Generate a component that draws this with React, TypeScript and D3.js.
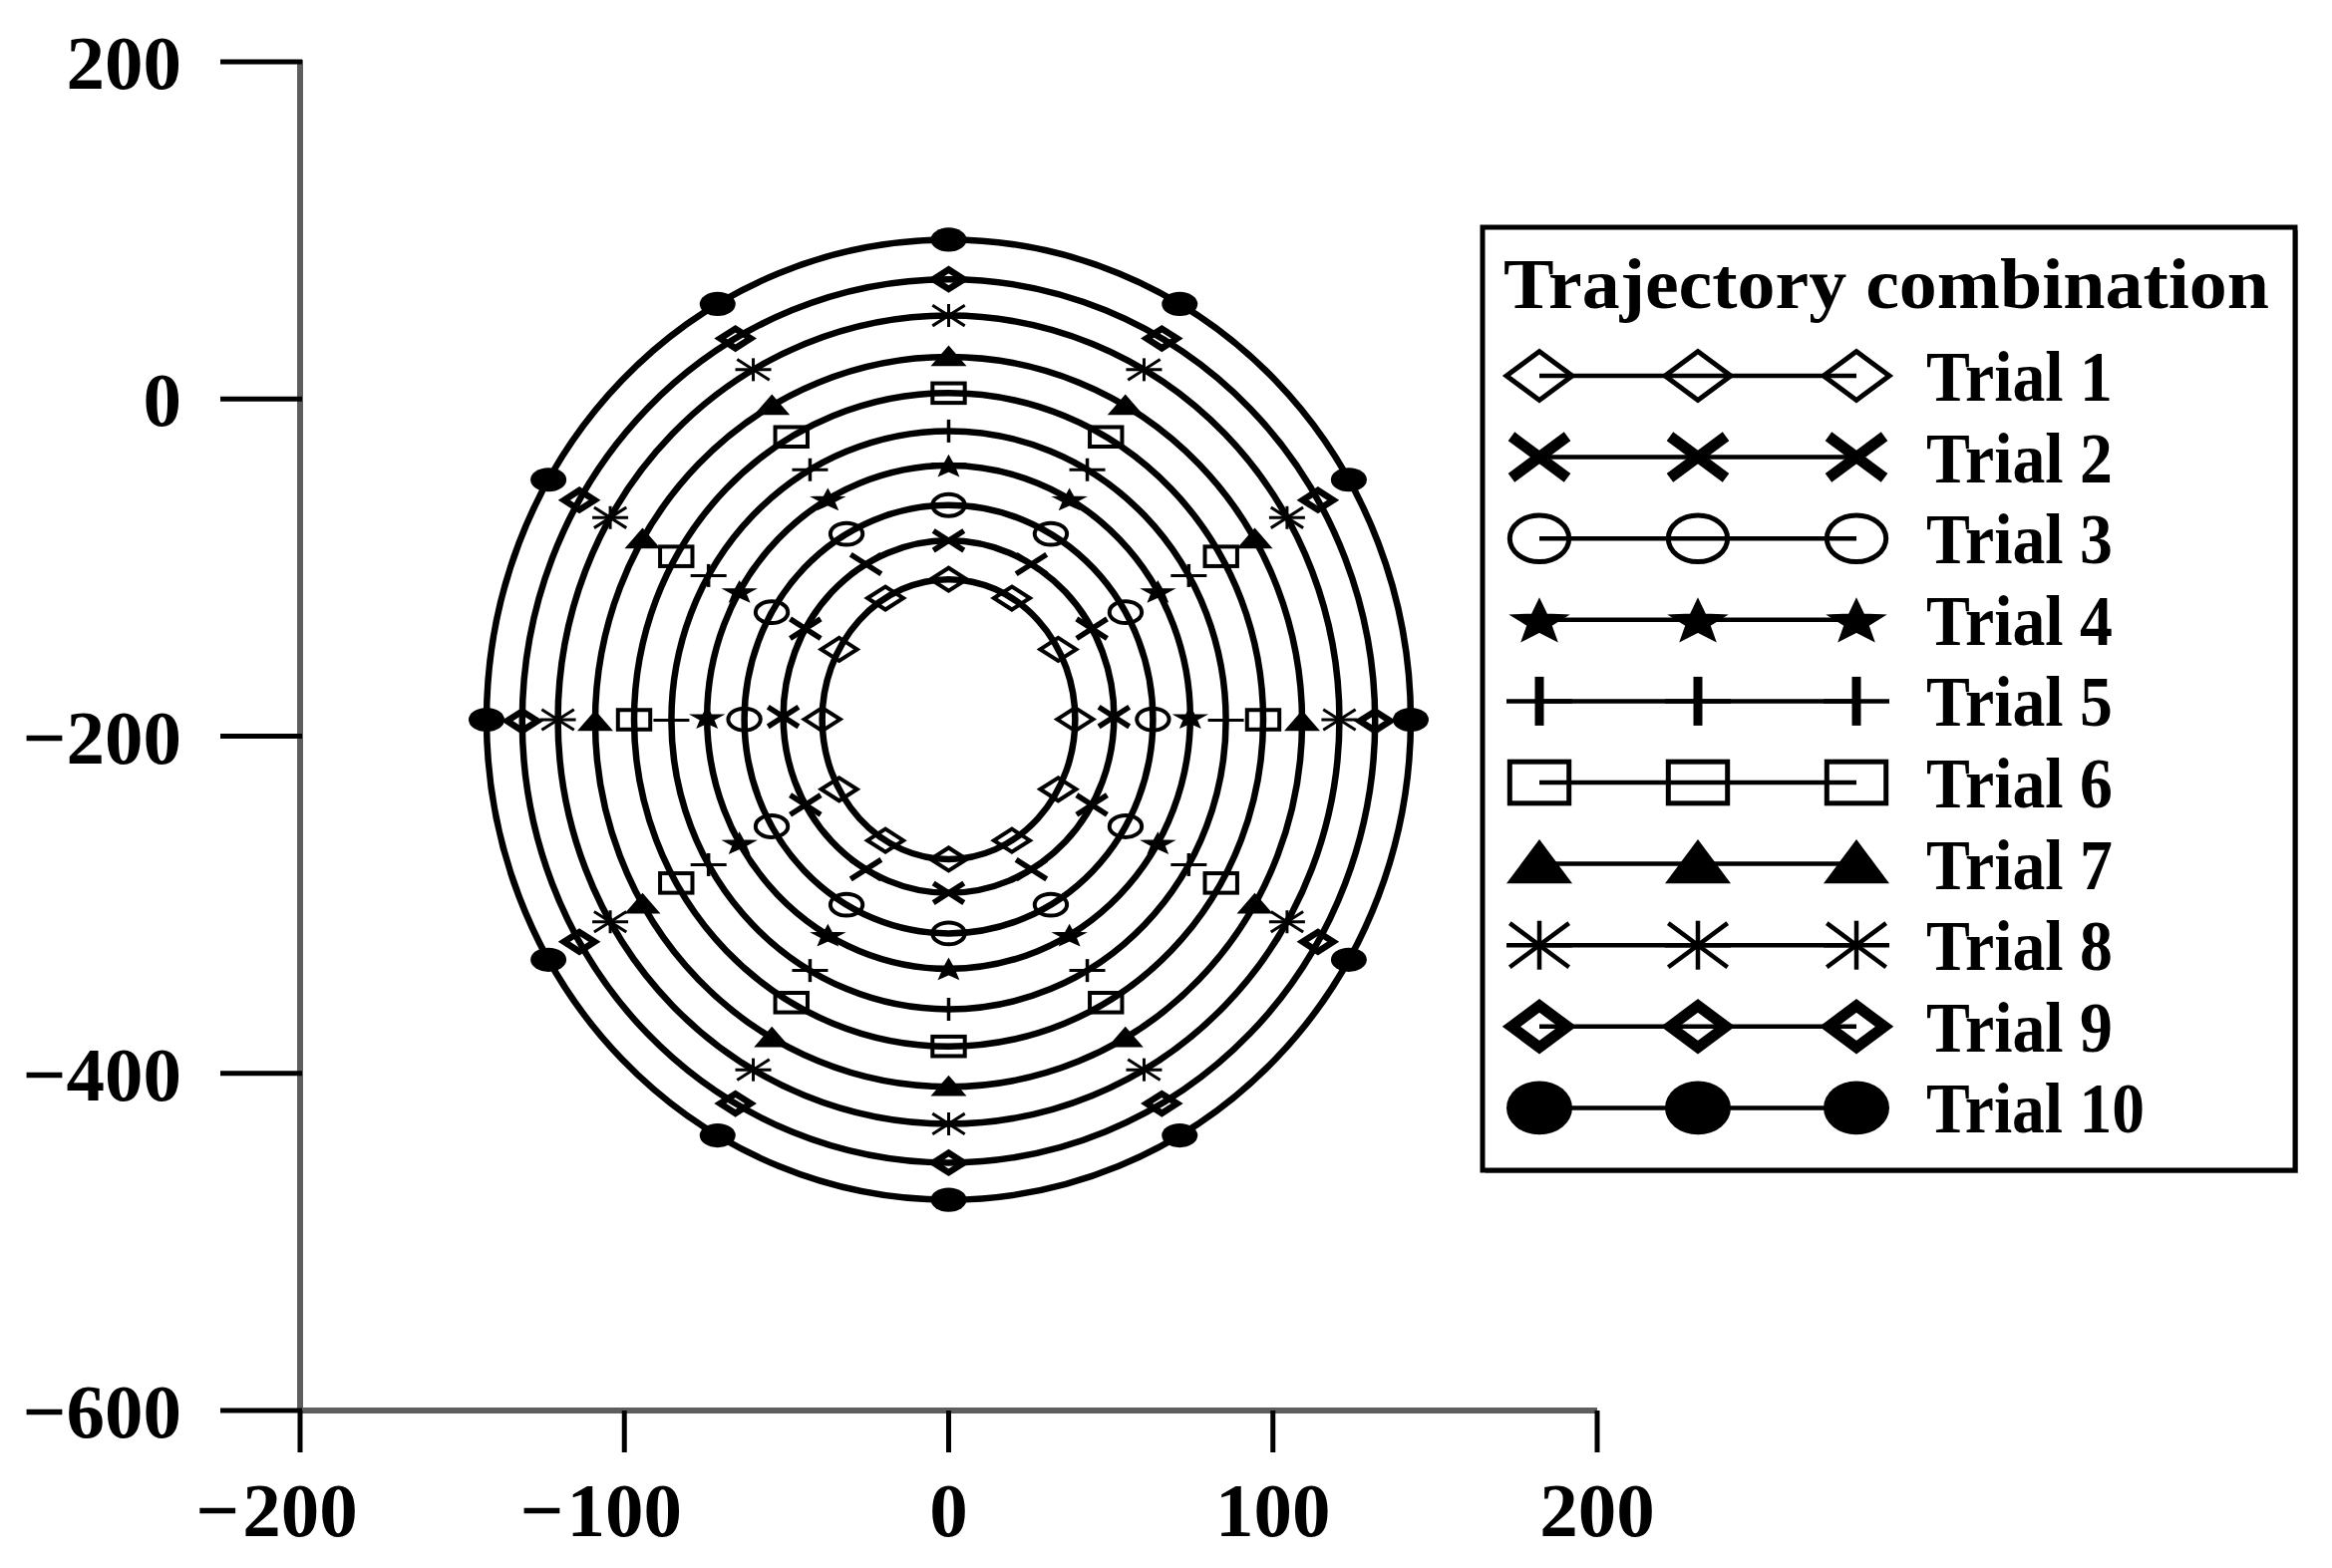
import React from "react";
import * as d3 from "d3";

const W = 2339;
const H = 1573;

// ---- data ----
const trials = ["Trial 1", "Trial 2", "Trial 3", "Trial 4", "Trial 5", "Trial 6", "Trial 7", "Trial 8", "Trial 9", "Trial 10"];
const markerKinds = ["diamond", "cross", "circle", "star", "plus", "square", "triangle", "asterisk", "diamondThick", "dot"];
// horizontal half-width of each trajectory (x units), centred on x = 0
const halfWidth = [39, 51, 63, 74.5, 85.5, 97, 109, 120.5, 131.5, 142.5];
// highest and lowest y of each trajectory
const topY = [-107, -84, -63, -39.5, -19, 3.5, 25, 49.5, 71, 94.5];
const bottomY = [-273, -293, -317, -338, -362, -384, -408, -430, -453, -475];
const centerX = 0;
// marker positions along each trajectory (parametric angle, degrees)
const markerAngles = [0, 30, 60, 90, 120, 150, 180, 210, 240, 270, 300, 330];
const xTicks = [-200, -100, 0, 100, 200];
const yTicks = [200, 0, -200, -400, -600];
const legendTitle = "Trajectory combination";

const FONT = '"Liberation Serif", "Times New Roman", serif';

function Marker({ kind, cx, cy, sx, sy, big }: { kind: string; cx: number; cy: number; sx: number; sy: number; big: boolean }) {
  const sw = big ? 5 : 4;
  switch (kind) {
    case "diamond":
      return <path d={`M${cx - sx},${cy}L${cx},${cy - sy}L${cx + sx},${cy}L${cx},${cy + sy}Z`} fill="none" stroke="#000" strokeWidth={sw} />;
    case "cross": {
      const k = 0.85;
      return (
        <g stroke="#000" strokeWidth={big ? 11 : 5.5}>
          <line x1={cx - sx * k} y1={cy - sy * 0.85} x2={cx + sx * k} y2={cy + sy * 0.85} />
          <line x1={cx - sx * k} y1={cy + sy * 0.85} x2={cx + sx * k} y2={cy - sy * 0.85} />
        </g>
      );
    }
    case "circle":
      return <ellipse cx={cx} cy={cy} rx={sx * 0.9} ry={sy * 0.95} fill="none" stroke="#000" strokeWidth={sw} />;
    case "star": {
      const pts: string[] = [];
      for (let i = 0; i < 10; i++) {
        const r = i % 2 === 0 ? 1 : 0.42;
        const a = -Math.PI / 2 + (i * Math.PI) / 5;
        pts.push(`${cx + Math.cos(a) * r * sx * 0.9},${cy + 0.1 * sy + Math.sin(a) * r * sy * 0.95}`);
      }
      return <path d={`M${pts.join("L")}Z`} fill="#000" stroke="#000" strokeWidth={1.5} />;
    }
    case "plus":
      return (
        <g stroke="#000">
          <line x1={cx - sx} y1={cy} x2={cx + sx} y2={cy} strokeWidth={big ? 4.5 : 3} />
          <line x1={cx} y1={cy - sy} x2={cx} y2={cy + sy} strokeWidth={big ? 9 : 3.5} />
        </g>
      );
    case "square":
      return <rect x={cx - sx * 0.9} y={cy - sy * 0.85} width={sx * 1.8} height={sy * 1.7} fill="none" stroke="#000" strokeWidth={sw} />;
    case "triangle":
      return <path d={`M${cx},${cy - sy}L${cx + sx},${cy + sy * 0.8}L${cx - sx},${cy + sy * 0.8}Z`} fill="#000" />;
    case "asterisk":
      return (
        <g stroke="#000" strokeWidth={big ? 4.5 : 3}>
          <line x1={cx - sx} y1={cy} x2={cx + sx} y2={cy} />
          <line x1={cx} y1={cy - sy} x2={cx} y2={cy + sy} />
          <line x1={cx - sx * 0.9} y1={cy - sy * 0.9} x2={cx + sx * 0.9} y2={cy + sy * 0.9} />
          <line x1={cx - sx * 0.9} y1={cy + sy * 0.9} x2={cx + sx * 0.9} y2={cy - sy * 0.9} />
        </g>
      );
    case "diamondThick":
      return (
        <path
          d={`M${cx - sx * 0.85},${cy}L${cx},${cy - sy * 0.85}L${cx + sx * 0.85},${cy}L${cx},${cy + sy * 0.85}Z`}
          fill="none"
          stroke="#000"
          strokeWidth={big ? 11 : 6.5}
          strokeLinejoin="miter"
        />
      );
    case "dot":
    default:
      return <ellipse cx={cx} cy={cy} rx={sx} ry={sy * (big ? 1.1 : 1.05)} fill="#000" />;
  }
}

export default function App() {
  const x = d3.scaleLinear().domain([-200, 200]).range([301, 1602]);
  const y = d3.scaleLinear().domain([-600, 200]).range([1415, 62]);

  const legendX = 1487;
  const legendY = 228;
  const legendW = 815;
  const legendH = 946;
  const rowY0 = 377;
  const rowStep = 81.6;
  const sampleXs = [1544, 1703, 1862];

  return (
    <svg width={W} height={H} style={{ position: "absolute", left: 0, top: 0, background: "#fff" }} fontFamily={FONT}>
      <rect x={0} y={0} width={W} height={H} fill="#fff" />

      {/* axes */}
      <line x1={x(-200)} y1={y(200) - 2} x2={x(-200)} y2={y(-600)} stroke="#5e5e5e" strokeWidth={6} />
      <line x1={x(-200)} y1={y(-600)} x2={x(200)} y2={y(-600)} stroke="#5e5e5e" strokeWidth={6} />
      {yTicks.map((v) => (
        <g key={`yt${v}`}>
          <line x1={x(-200) - 80} y1={y(v)} x2={x(-200) + 2} y2={y(v)} stroke="#000" strokeWidth={5} />
          <text x={182} y={y(v) + 27} textAnchor="end" fontSize={77} fontWeight="bold" fill="#000">
            {v < 0 ? `\u2212${Math.abs(v)}` : `${v}`}
          </text>
        </g>
      ))}
      {xTicks.map((v) => {
        const digits = `${Math.abs(v)}`;
        const dw = digits.length * 0.5 * 77;
        return (
          <g key={`xt${v}`}>
            <line x1={x(v)} y1={y(-600)} x2={x(v)} y2={y(-600) + 42} stroke="#000" strokeWidth={5} />
            <text x={x(v)} y={1541} textAnchor="middle" fontSize={77} fontWeight="bold" fill="#000">
              {digits}
            </text>
            {v < 0 && (
              <text x={x(v) - dw / 2 - 3} y={1541} textAnchor="end" fontSize={77} fontWeight="bold" fill="#000">
                {"\u2212"}
              </text>
            )}
          </g>
        );
      })}

      {/* trajectories */}
      {trials.map((t, i) => {
        const cy = (topY[i] + bottomY[i]) / 2;
        const b = (topY[i] - bottomY[i]) / 2;
        const a = halfWidth[i];
        return (
          <ellipse
            key={`e${t}`}
            cx={x(centerX)}
            cy={y(cy)}
            rx={x(centerX + a) - x(centerX)}
            ry={y(cy) - y(cy + b)}
            fill="none"
            stroke="#000"
            strokeWidth={6.5}
          />
        );
      })}
      {trials.map((t, i) => {
        const cy = (topY[i] + bottomY[i]) / 2;
        const b = (topY[i] - bottomY[i]) / 2;
        const a = halfWidth[i];
        return (
          <g key={`m${t}`}>
            {markerAngles.map((deg) => {
              const r = (deg * Math.PI) / 180;
              return (
                <Marker
                  key={deg}
                  kind={markerKinds[i]}
                  cx={x(centerX + a * Math.sin(r))}
                  cy={y(cy + b * Math.cos(r))}
                  sx={18}
                  sy={11.5}
                  big={false}
                />
              );
            })}
          </g>
        );
      })}

      {/* legend */}
      <rect x={legendX + 3} y={legendY + 3} width={legendW} height={legendH} fill="#888" />
      <rect x={legendX} y={legendY} width={legendW} height={legendH} fill="#fff" stroke="#000" strokeWidth={5} />
      <text x={1508} y={309} fontSize={72} fontWeight="bold" textLength={768} lengthAdjust="spacingAndGlyphs" fill="#000">
        {legendTitle}
      </text>
      {trials.map((t, i) => {
        const cy = rowY0 + i * rowStep;
        const nd = t.length - 6;
        return (
          <g key={`l${t}`}>
            <line x1={sampleXs[0]} y1={cy} x2={sampleXs[2]} y2={cy} stroke="#000" strokeWidth={4.5} />
            {sampleXs.map((sxp) => (
              <Marker key={sxp} kind={markerKinds[i]} cx={sxp} cy={cy} sx={33} sy={24.5} big={true} />
            ))}
            <text
              x={1932}
              y={cy + 25}
              fontSize={72}
              fontWeight="bold"
              fill="#000"
              textLength={0.89 * 72 * (2.417 + 0.5 * nd)}
              lengthAdjust="spacingAndGlyphs"
            >
              {t}
            </text>
          </g>
        );
      })}
    </svg>
  );
}
